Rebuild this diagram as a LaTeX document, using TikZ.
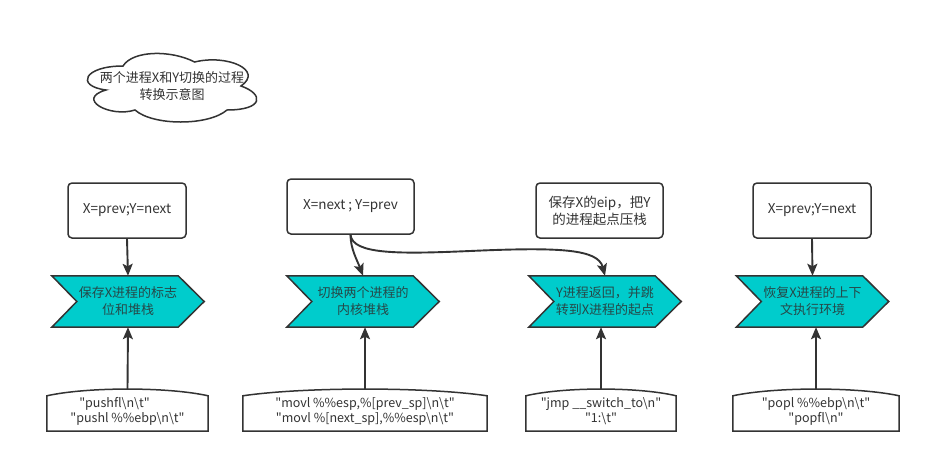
\documentclass[tikz,border=0pt]{standalone}
\usepackage{fontspec}
\setmainfont{Noto Sans CJK SC}[Ligatures=TeXOff]
\usetikzlibrary{arrows.meta,calc}

\definecolor{ink}{HTML}{333333}
\definecolor{chevfill}{HTML}{00CCCC}
\definecolor{chevtext}{HTML}{264848}

\tikzset{
  label font/.style={font=\fontsize{13}{17}\selectfont},
  notebox/.style={draw=ink, line width=1.5pt, rounded corners=4pt, fill=white,
    align=center, text=ink, inner sep=0pt, font=\fontsize{13.5}{17}\selectfont},
  chevnode/.style={minimum width=152pt, minimum height=51pt, inner sep=0pt,
    align=center, text=chevtext, label font},
  codenode/.style={minimum height=35pt, inner sep=0pt, align=center, text=ink,
    font=\fontsize{12.5}{15}\selectfont},
  flow/.style={draw=ink, line width=1.9pt,
    -{Stealth[length=12pt,width=10pt,inset=2.5pt]}},
  outline/.style={draw=ink, line width=1.5pt},
}

% chevron outline around a named node: notch on the west, point on the east
\newcommand{\chevronshape}[1]{%
  \draw[outline, fill=chevfill, line join=miter]
    (#1.north west) -- ($(#1.north east)+(-26,0)$) -- (#1.east)
    -- ($(#1.south east)+(-26,0)$) -- (#1.south west)
    -- ($(#1.west)+(25,0)$) -- cycle;}

% code box outline: straight sides, arched top
\newcommand{\codeshape}[1]{%
  \draw[outline, fill=white]
    (#1.north west) .. controls ($(#1.north west)!0.25!(#1.north east)+(0,-9)$)
    and ($(#1.north west)!0.75!(#1.north east)+(0,-9)$) .. (#1.north east)
    -- (#1.south east) -- (#1.south west) -- cycle;}

\begin{document}
\begin{tikzpicture}[x=1pt,y=-1pt]
\useasboundingbox (0,0) rectangle (925,464);

% cloud with the caption
\draw[outline, fill=white]
  (123,66) .. controls (84,66) and (75,86) .. (106,90)
  .. controls (75,98.8) and (110,118) .. (135,110)
  .. controls (153,126) and (208.5,126) .. (227,110)
  .. controls (264,110) and (264,94) .. (241,86)
  .. controls (264,70) and (227,54) .. (194.6,62)
  .. controls (171.5,50) and (133,50) .. (123,66) -- cycle;
\node[label font, align=center, text=ink] (cloudtxt) at (172,86.5)
  {两个进程X和Y切换的过程\\转换示意图};

% register assignments
\node[notebox, minimum width=118pt, minimum height=55pt] (t1) at (127,210.5) {X=prev;Y=next};
\node[notebox, minimum width=127pt, minimum height=55pt] (t2) at (350.5,206.5) {X=next ; Y=prev};
\node[notebox, minimum width=127pt, minimum height=55pt] (t3) at (599.5,210.5) {保存X的eip，把Y\\的进程起点压栈};
\node[notebox, minimum width=118pt, minimum height=55pt] (t4) at (812,210.5) {X=prev;Y=next};

% switching steps
\node[chevnode] (c1) at (128,301.5) {};
\node[chevnode] (c2) at (363,301.5) {};
\node[chevnode] (c3) at (605,301.5) {};
\node[chevnode] (c4) at (812.5,301.5) {};
\chevronshape{c1}\chevronshape{c2}\chevronshape{c3}\chevronshape{c4}
\node[chevnode] at (c1) {保存X进程的标志\\位和堆栈};
\node[chevnode] at (c2) {切换两个进程的\\内核堆栈};
\node[chevnode] at (c3) {Y进程返回，并跳\\转到X进程的起点};
\node[chevnode] at (c4) {恢复X进程的上下\\文执行环境};

% inline assembly
\node[codenode, minimum width=161pt] (b1) at (127.5,413.5) {};
\node[codenode, minimum width=244pt] (b2) at (365,413.5) {};
\node[codenode, minimum width=150pt] (b3) at (601,413.5) {};
\node[codenode, minimum width=166pt] (b4) at (816,413.5) {};
\codeshape{b1}\codeshape{b2}\codeshape{b3}\codeshape{b4}
\node[codenode] at ($(b1)+(0,-2)$) {"pushfl\textbackslash n\textbackslash t"\hspace*{26pt}\\"pushl \%\%ebp\textbackslash n\textbackslash t"};
\node[codenode] at ($(b2)+(0,-2)$) {"movl \%\%esp,\%[prev\_sp]\textbackslash n\textbackslash t"\\"movl \%[next\_sp],\%\%esp\textbackslash n\textbackslash t"};
\node[codenode] at ($(b3)+(0,-2)$) {"jmp \_\_switch\_to\textbackslash n"\\"1:\textbackslash t"};
\node[codenode] at ($(b4)+(0,-2)$) {"popl \%\%ebp\textbackslash n\textbackslash t"\\"popfl\textbackslash n"};

% connectors
\draw[flow] (t1.south) -- (c1.north);
\draw[flow] (t4.south) -- (c4.north);
\draw[flow] (t2.south) .. controls +(0,14) and +(-6,-16) .. (c2.north);
\draw[flow] (t2.south) .. controls +(2,20) and (400,254) .. (470,251)
  .. controls (560,247) and (598,249) .. (c3.north);
\draw[flow] ($(b1.north)+(0,-7)$) -- (c1.south);
\draw[flow] ($(b2.north)+(0,-7)$) -- (b2.north |- c2.south);
\draw[flow] ($(b3.north)+(0,-7)$) -- (b3.north |- c3.south);
\draw[flow] ($(b4.north)+(0,-7)$) -- (b4.north |- c4.south);
\end{tikzpicture}
\end{document}
